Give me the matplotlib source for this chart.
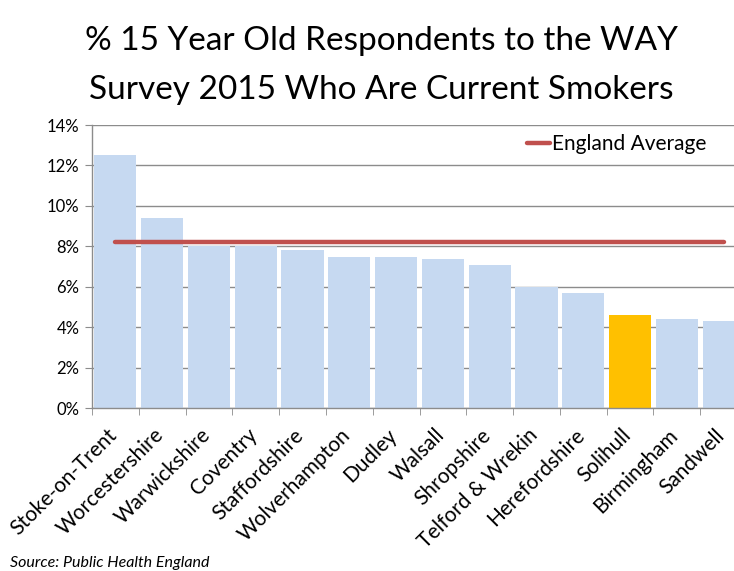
import matplotlib
matplotlib.use("Agg")
import matplotlib.pyplot as plt
from matplotlib.ticker import FuncFormatter, MultipleLocator
from matplotlib.transforms import ScaledTranslation
import numpy as np

categories = ["Stoke-on-Trent", "Worcestershire", "Warwickshire", "Coventry",
              "Staffordshire", "Wolverhampton", "Dudley", "Walsall", "Shropshire",
              "Telford & Wrekin", "Herefordshire", "Solihull", "Birmingham", "Sandwell"]
values = [12.5, 9.4, 8.0, 8.0, 7.8, 7.5, 7.5, 7.4, 7.1, 6.0, 5.7, 4.6, 4.4, 4.3]
england_average = [8.2] * len(categories)
highlight = "Solihull"

plt.rcParams['font.family'] = ['Lato', 'DejaVu Sans']

fig = plt.figure(figsize=(7.34, 5.71), dpi=100)
ax = fig.add_axes([92/734, 1-408.3/571, 655/734, (408.3-125)/571])

x = np.arange(len(categories))
colors = ["#FFC000" if c == highlight else "#C6D9F1" for c in categories]
ax.bar(x, values, width=0.9, color=colors, zorder=2)
ax.plot(x, england_average, color="#C0504D", lw=3.2, solid_capstyle='round',
        zorder=3, label="England Average")

ax.set_xlim(-0.5, len(categories) - 0.5)
ax.set_ylim(0, 14)
ax.yaxis.set_major_locator(MultipleLocator(2))
ax.yaxis.set_major_formatter(FuncFormatter(lambda v, p: f"{v:.0f}%"))
ax.grid(axis='y', color="#8C8C8C", lw=1.0, zorder=0)
ax.set_axisbelow(True)

for s in ["top", "right"]:
    ax.spines[s].set_visible(False)
for s in ["left", "bottom"]:
    ax.spines[s].set_color("#8C8C8C")
    ax.spines[s].set_linewidth(1.0)

ax.set_xticks(x)
ax.set_xticklabels(categories, rotation=45, ha='right', va='top',
                   rotation_mode='anchor', fontsize=15)
ax.tick_params(axis='x', which='major', length=0, pad=12)
offset = ScaledTranslation(-9/100, 0, fig.dpi_scale_trans)
for lbl in ax.get_xticklabels():
    lbl.set_transform(lbl.get_transform() + offset)
ax.set_xticks(np.arange(len(categories) + 1) - 0.5, minor=True)
ax.tick_params(axis='x', which='minor', length=5, color="#8C8C8C", direction='out')
ax.tick_params(axis='y', length=5, color="#8C8C8C", labelsize=12, pad=4)

leg = ax.legend(loc='upper right', bbox_to_anchor=((716-92)/655, 1.0), frameon=False,
                fontsize=15, handlelength=1.1, handletextpad=0.1,
                borderaxespad=0.25, borderpad=0.2)

fig.text(381/734, 1-41/571, "% 15 Year Old Respondents to the WAY",
         ha='center', va='center', fontsize=24)
fig.text(381/734, 1-90/571, "Survey 2015 Who Are Current Smokers",
         ha='center', va='center', fontsize=24)
fig.text(10/734, 1-563/571, "Source: Public Health England", ha='left',
         va='center', fontsize=11.5, style='italic')

fig.savefig("out.png", dpi=100)
